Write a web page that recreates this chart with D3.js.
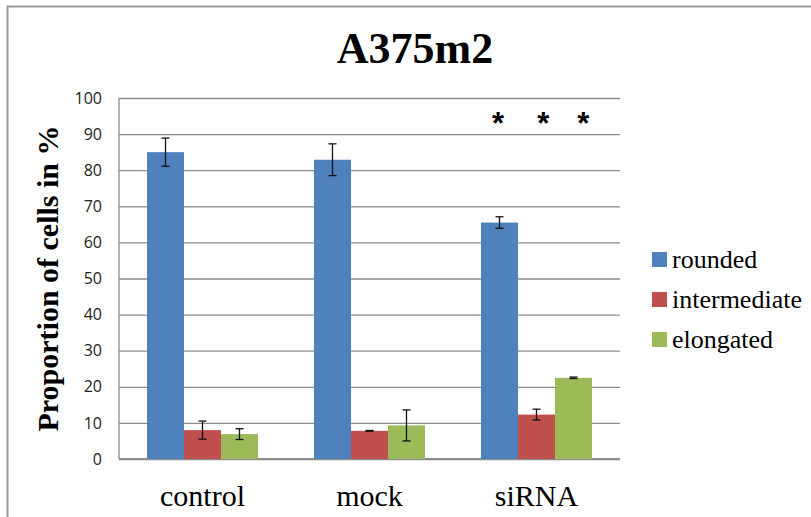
<!DOCTYPE html>
<html>
<head>
<meta charset="utf-8">
<title>A375m2</title>
<script src="https://d3js.org/d3.v7.min.js"></script>
<style>
    body { margin: 0; background: #fff; }
    svg { display: block; }
    .serif { font-family: "Liberation Serif", "Times New Roman", serif; }
</style>
</head>
<body>
<div id="chart"></div>
<script>
    // data
    var groups = ["control", "mock", "siRNA"];
    var series = ["rounded", "intermediate", "elongated"];
    var rounded      = [85.0, 82.9, 65.5];
    var intermediate = [8.0, 7.8, 12.3];
    var elongated    = [6.9, 9.3, 22.5];
    var roundedErr      = [3.9, 4.4, 1.6];
    var intermediateErr = [2.5, 0.1, 1.5];
    var elongatedErr    = [1.5, 4.3, 0.2];
    var yTicks = [0, 10, 20, 30, 40, 50, 60, 70, 80, 90, 100];
    var colors = ["#4f81bd", "#c0504d", "#9bbb59"];
    // significance stars above siRNA (fraction of group band)
    var starPos = [0.27, 0.54, 0.78];

    var values = [rounded, intermediate, elongated];
    var errors = [roundedErr, intermediateErr, elongatedErr];

    var W = 811, H = 517;
    var margin = { top: 98, left: 119, right: 191, bottom: 58 };
    var width = W - margin.left - margin.right,
        height = H - margin.top - margin.bottom;

    var svg = d3.select("#chart").append("svg")
        .attr("width", W).attr("height", H);

    // outer chart frame (cropped on right and bottom)
    svg.append("path")
        .attr("d", "M7.5," + (H + 5) + "V6.5H" + (W + 5))
        .attr("fill", "none")
        .attr("stroke", "#9a9a9a")
        .attr("stroke-width", 2);

    // title
    svg.append("text")
        .attr("class", "serif")
        .attr("x", 415).attr("y", 63)
        .attr("text-anchor", "middle")
        .style("font-weight", "bold")
        .style("font-size", "44px")
        .text("A375m2");

    var g = svg.append("g")
        .attr("transform", "translate(" + margin.left + "," + margin.top + ")");

    var x0 = d3.scaleBand().domain(groups).range([0, width]).padding(0);
    var x1 = d3.scaleBand().domain(series).range([0, x0.bandwidth()])
        .paddingInner(0).paddingOuter(0.757);
    var y = d3.scaleLinear().domain([0, 100]).range([height, 0]);

    // gridlines + tick labels
    var yAxis = g.append("g")
        .call(d3.axisLeft(y).tickValues(yTicks).tickSize(-width).tickPadding(17));
    yAxis.select(".domain").remove();
    yAxis.selectAll(".tick line")
        .attr("stroke", "#8c8c8c").attr("stroke-width", 1.3);
    yAxis.selectAll(".tick text")
        .style("font-family", "'Open Sans', sans-serif")
        .style("font-size", "16px")
        .attr("fill", "#222");

    // left and bottom axis lines
    g.append("line")
        .attr("x1", 0).attr("x2", 0).attr("y1", y(100)).attr("y2", y(0))
        .attr("stroke", "#8c8c8c").attr("stroke-width", 1.3);
    g.append("line")
        .attr("x1", 0).attr("x2", width).attr("y1", y(0)).attr("y2", y(0))
        .attr("stroke", "#8c8c8c").attr("stroke-width", 1.8);

    // bars
    var rows = [];
    groups.forEach(function (grp, i) {
        series.forEach(function (s, j) {
            rows.push({ group: grp, series: s, j: j, value: values[j][i], err: errors[j][i] });
        });
    });

    g.selectAll("rect.bar")
        .data(rows)
        .enter().append("rect")
        .attr("class", "bar")
        .attr("x", function (d) { return x0(d.group) + x1(d.series); })
        .attr("width", x1.bandwidth())
        .attr("y", function (d) { return y(d.value); })
        .attr("height", function (d) { return y(0) - y(d.value); })
        .attr("fill", function (d) { return colors[d.j]; });

    // error bars
    var eb = g.selectAll("g.err")
        .data(rows)
        .enter().append("g")
        .attr("class", "err")
        .attr("stroke", "#111")
        .attr("stroke-width", 1.3);
    var cx = function (d) { return x0(d.group) + x1(d.series) + x1.bandwidth() / 2; };
    eb.append("line")
        .attr("x1", cx).attr("x2", cx)
        .attr("y1", function (d) { return y(d.value + d.err); })
        .attr("y2", function (d) { return y(d.value - d.err); });
    [1, -1].forEach(function (sgn) {
        eb.append("line")
            .attr("x1", function (d) { return cx(d) - 4; })
            .attr("x2", function (d) { return cx(d) + 4; })
            .attr("y1", function (d) { return y(d.value + sgn * d.err); })
            .attr("y2", function (d) { return y(d.value + sgn * d.err); });
    });

    // stars
    g.selectAll("text.star")
        .data(starPos)
        .enter().append("text")
        .attr("class", "star")
        .attr("x", function (d) { return x0("siRNA") + d * x0.bandwidth(); })
        .attr("y", y(95) + 18)
        .attr("text-anchor", "middle")
        .style("font-family", "'Liberation Sans', Arial, sans-serif")
        .style("font-weight", "bold")
        .style("font-size", "31px")
        .text("*");

    // category labels
    g.selectAll("text.cat")
        .data(groups)
        .enter().append("text")
        .attr("class", "cat serif")
        .attr("x", function (d) { return x0(d) + x0.bandwidth() / 2; })
        .attr("y", height + 47)
        .attr("text-anchor", "middle")
        .style("font-size", "30px")
        .text(function (d) { return d; });

    // y axis title
    svg.append("text")
        .attr("class", "serif")
        .attr("transform", "translate(58," + (margin.top + height / 2) + ") rotate(-90)")
        .attr("text-anchor", "middle")
        .style("font-weight", "bold")
        .style("font-size", "30px")
        .text("Proportion of cells in %");

    // legend
    var legend = svg.append("g").attr("transform", "translate(652,252)");
    var item = legend.selectAll("g")
        .data(series)
        .enter().append("g")
        .attr("transform", function (d, i) { return "translate(0," + i * 40 + ")"; });
    item.append("rect")
        .attr("width", 15).attr("height", 15)
        .attr("fill", function (d, i) { return colors[i]; });
    item.append("text")
        .attr("class", "serif")
        .attr("x", 20).attr("y", 16)
        .style("font-size", "26px")
        .text(function (d) { return d; });
</script>
</body>
</html>
